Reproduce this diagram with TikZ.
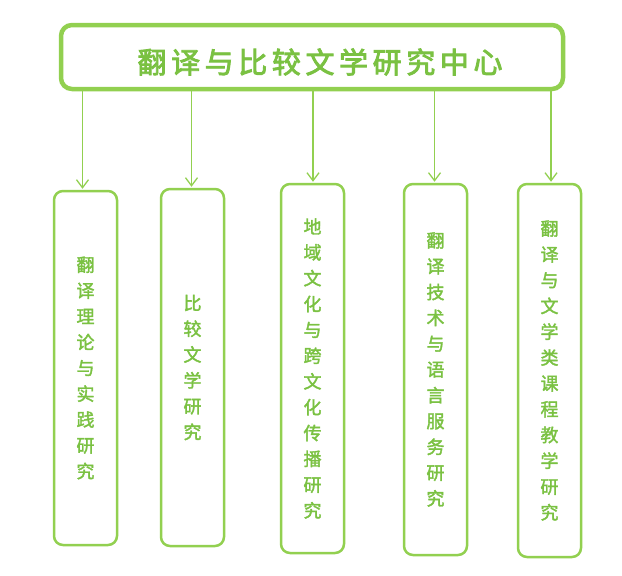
\documentclass[tikz,border=0pt]{standalone}
\usepackage{fontspec}
\setmainfont{Noto Sans CJK SC}
\newfontfamily\vfont[FakeBold=2]{Noto Sans CJK SC}
\newfontfamily\tfont[FakeBold=3]{Noto Sans CJK SC}
\usetikzlibrary{arrows.meta}
\definecolor{gline}{RGB}{146,208,80}
\definecolor{gtext}{RGB}{122,193,66}
\begin{document}
\begin{tikzpicture}[x=1pt,y=-1pt,
 topbox/.style={draw=gline,line width=4.5pt,rounded corners=11pt,minimum width=502pt,minimum height=64pt,inner sep=0pt},
 titletext/.style={text=gtext,inner sep=0pt,font=\tfont\fontsize{29}{29}\selectfont},
 vbox/.style={draw=gline,line width=2.5pt,rounded corners=9pt,minimum width=63pt,inner sep=0pt,align=center,text=gtext,font=\vfont\fontsize{18}{25.8}\selectfont},
 arr/.style={draw=gline,line width=1.3pt,shorten >=1pt,-{Straight Barb[length=8pt,width=12pt]}},
]
\useasboundingbox (0,0) rectangle (622,576);
\node[topbox] (top) at (312,57) {};
\node[titletext] (title) at (320,62) {翻\hspace{4.6pt}译\hspace{4.6pt}与\hspace{4.6pt}比\hspace{4.6pt}较\hspace{4.6pt}文\hspace{4.6pt}学\hspace{4.6pt}研\hspace{4.6pt}究\hspace{4.6pt}中\hspace{4.6pt}心};
\node[vbox,minimum height=354pt] (b1) at (85.5,368) {翻\\译\\理\\论\\与\\实\\践\\研\\究};
\node[vbox,minimum height=357pt] (b2) at (192.5,367.5) {比\\较\\文\\学\\研\\究};
\node[vbox,minimum height=369pt] (b3) at (312.5,368.5) {地\\域\\文\\化\\与\\跨\\文\\化\\传\\播\\研\\究};
\node[vbox,minimum height=371pt] (b4) at (435.5,369.5) {翻\\译\\技\\术\\与\\语\\言\\服\\务\\研\\究};
\node[vbox,minimum height=373pt] (b5) at (549.5,370.5) {翻\\译\\与\\文\\学\\类\\课\\程\\教\\学\\研\\究};
\draw[arr] ([xshift=-3pt]b1.north |- top.south) -- ([xshift=-3pt]b1.north);
\draw[arr] ([xshift=-1pt]b2.north |- top.south) -- ([xshift=-1pt]b2.north);
\draw[arr] ([xshift=0.5pt]b3.north |- top.south) -- ([xshift=0.5pt]b3.north);
\draw[arr] ([xshift=-1pt]b4.north |- top.south) -- ([xshift=-1pt]b4.north);
\draw[arr] ([xshift=1.5pt]b5.north |- top.south) -- ([xshift=1.5pt]b5.north);
\end{tikzpicture}
\end{document}
